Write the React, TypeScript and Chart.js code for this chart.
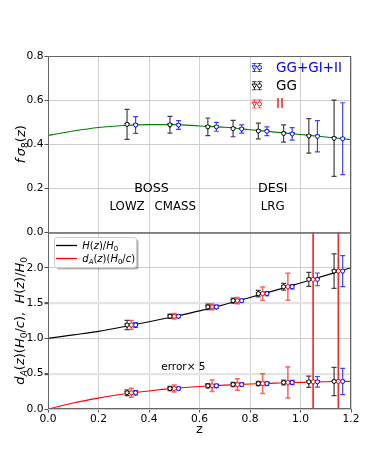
import React, { useEffect, useRef } from "react";
import { Chart, registerables } from "chart.js";
Chart.register(...registerables);

const FAM = '"DejaVu Sans", "Liberation Sans", sans-serif';

// ---- data ----
const zBins = [0.33, 0.5, 0.65, 0.75, 0.85, 0.95, 1.05, 1.15];

const fs8GG = [0.490, 0.488, 0.479, 0.471, 0.460, 0.449, 0.438, 0.427];
const fs8GGErr = [0.068, 0.038, 0.040, 0.037, 0.036, 0.039, 0.078, 0.173];
const fs8All = [0.487, 0.487, 0.479, 0.469, 0.459, 0.447, 0.436, 0.425];
const fs8AllErr = [0.038, 0.020, 0.020, 0.019, 0.020, 0.028, 0.071, 0.163];

const hzVals = [1.19, 1.314, 1.446, 1.535, 1.634, 1.732, 1.836, 1.953];
const hzErrGG = [0.065, 0.03, 0.04, 0.035, 0.045, 0.047, 0.1, 0.245];
const hzErrII = [0.065, 0.04, 0.04, 0.045, 0.094, 0.19, 5, 5];
const hzErrAll = [0.035, 0.02, 0.025, 0.02, 0.03, 0.03, 0.09, 0.22];

const daVals = [0.23, 0.29, 0.329, 0.347, 0.36, 0.376, 0.385, 0.39];
const daErrGG = [0.04, 0.03, 0.03, 0.03, 0.03, 0.035, 0.08, 0.2];
const daErrII = [0.065, 0.05, 0.08, 0.08, 0.14, 0.22, 5, 5];
const daErrAll = [0.03, 0.02, 0.025, 0.025, 0.025, 0.03, 0.075, 0.185];

const curveZ = [0, 0.1, 0.2, 0.3, 0.4, 0.5, 0.6, 0.7, 0.8, 0.9, 1.0, 1.1, 1.2];
const fs8Curve = [0.44, 0.46, 0.476, 0.485, 0.489, 0.489, 0.483, 0.477, 0.466, 0.455, 0.444, 0.433, 0.421];
const hzCurve = [1.0, 1.05, 1.10, 1.165, 1.235, 1.31, 1.39, 1.48, 1.58, 1.68, 1.785, 1.893, 2.0];
const daCurve = [0, 0.086, 0.154, 0.212, 0.256, 0.292, 0.318, 0.338, 0.354, 0.366, 0.377, 0.385, 0.391];

const xTicks = [0, 0.2, 0.4, 0.6, 0.8, 1.0, 1.2];
const topTicks = [0, 0.2, 0.4, 0.6, 0.8];
const botTicks = [0, 0.5, 1.0, 1.5, 2.0];

const OFF = 0.017;
const BLACK = "#000000";
const BLUE = "#0000ff";
const RED = "#ff0000";
const BAR_BLACK = "rgba(0,0,0,0.75)";
const BAR_BLUE = "rgba(0,0,255,0.75)";
const BAR_RED = "rgba(255,0,0,0.62)";

type Series = { axis: string; dz: number; vals: number[]; errs: number[]; edge: string; bar: string };
const series: Series[] = [
  { axis: "yT", dz: -OFF, vals: fs8GG, errs: fs8GGErr, edge: BLACK, bar: BAR_BLACK },
  { axis: "yT", dz: OFF, vals: fs8All, errs: fs8AllErr, edge: BLUE, bar: BAR_BLUE },
  { axis: "yB", dz: -OFF, vals: hzVals, errs: hzErrGG, edge: BLACK, bar: BAR_BLACK },
  { axis: "yB", dz: 0, vals: hzVals, errs: hzErrII, edge: RED, bar: BAR_RED },
  { axis: "yB", dz: OFF, vals: hzVals, errs: hzErrAll, edge: BLUE, bar: BAR_BLUE },
  { axis: "yB", dz: -OFF, vals: daVals, errs: daErrGG, edge: BLACK, bar: BAR_BLACK },
  { axis: "yB", dz: 0, vals: daVals, errs: daErrII, edge: RED, bar: BAR_RED },
  { axis: "yB", dz: OFF, vals: daVals, errs: daErrAll, edge: BLUE, bar: BAR_BLUE },
];

const notes = [
  { text: "BOSS", z: 0.41, v: 0.2, size: 12.7, axis: "yT" },
  { text: "LOWZ", z: 0.313, v: 0.118, size: 11.8, axis: "yT" },
  { text: "CMASS", z: 0.504, v: 0.118, size: 11.8, axis: "yT" },
  { text: "DESI", z: 0.89, v: 0.2, size: 12.7, axis: "yT" },
  { text: "LRG", z: 0.89, v: 0.118, size: 11.8, axis: "yT" },
  { text: "error\u00d7 5", z: 0.536, v: 0.587, size: 10.5, axis: "yB" },
];

const topLegend = [
  { label: "GG+GI+II", color: BLUE, bar: BAR_BLUE },
  { label: "GG", color: BLACK, bar: BAR_BLACK },
  { label: "II", color: RED, bar: BAR_RED },
];

type Part = { t: string; it?: boolean; sub?: boolean };
const titleTop: Part[] = [
  { t: "f", it: true }, { t: "\u2009" }, { t: "\u03c3", it: true }, { t: "8", sub: true },
  { t: "(" }, { t: "z", it: true }, { t: ")" },
];
const titleBot: Part[] = [
  { t: "d", it: true }, { t: "A", it: true, sub: true }, { t: "(" }, { t: "z", it: true }, { t: ")" },
  { t: "(" }, { t: "H", it: true }, { t: "0", sub: true }, { t: "/" }, { t: "c", it: true }, { t: ")" },
  { t: ",  " }, { t: "H", it: true }, { t: "(" }, { t: "z", it: true }, { t: ")" }, { t: "/" },
  { t: "H", it: true }, { t: "0", sub: true },
];
const legH: Part[] = [
  { t: "H", it: true }, { t: "(" }, { t: "z", it: true }, { t: ")" }, { t: "/" }, { t: "H", it: true }, { t: "0", sub: true },
];
const legDA: Part[] = [
  { t: "d", it: true }, { t: "A", it: true, sub: true }, { t: "(" }, { t: "z", it: true }, { t: ")" },
  { t: "(" }, { t: "H", it: true }, { t: "0", sub: true }, { t: "/" }, { t: "c", it: true }, { t: ")" },
];

function partFont(p: Part, size: number) {
  const s = p.sub ? size * 0.7 : size;
  return `${p.it ? "italic " : ""}${s}px ${FAM}`;
}
function mathWidth(ctx: CanvasRenderingContext2D, parts: Part[], size: number) {
  let w = 0;
  for (const p of parts) {
    ctx.font = partFont(p, size);
    w += ctx.measureText(p.t).width;
  }
  return w;
}
function drawMath(ctx: CanvasRenderingContext2D, parts: Part[], x: number, y: number, size: number, color: string) {
  ctx.fillStyle = color;
  ctx.textBaseline = "alphabetic";
  ctx.textAlign = "left";
  let cx = x;
  for (const p of parts) {
    ctx.font = partFont(p, size);
    ctx.fillText(p.t, cx, y + (p.sub ? size * 0.22 : 0));
    cx += ctx.measureText(p.t).width;
  }
}
function drawIcon(ctx: CanvasRenderingContext2D, cx: number, cy: number, edge: string, bar: string) {
  ctx.save();
  ctx.strokeStyle = bar;
  ctx.lineWidth = 1;
  for (const dx of [-2.6, 2.6]) {
    const x = cx + dx;
    ctx.beginPath();
    ctx.moveTo(x, cy - 4); ctx.lineTo(x, cy + 4);
    ctx.moveTo(x - 2.2, cy - 4); ctx.lineTo(x + 2.2, cy - 4);
    ctx.moveTo(x - 2.2, cy + 4); ctx.lineTo(x + 2.2, cy + 4);
    ctx.stroke();
  }
  ctx.strokeStyle = edge;
  ctx.fillStyle = "#fff";
  ctx.lineWidth = 0.9;
  const tx = cx - 2.6;
  ctx.beginPath();
  ctx.moveTo(tx - 2.4, cy - 1.6); ctx.lineTo(tx + 2.4, cy - 1.6); ctx.lineTo(tx, cy + 2.4); ctx.closePath();
  ctx.fill(); ctx.stroke();
  ctx.beginPath();
  ctx.arc(cx + 2.6, cy, 2, 0, Math.PI * 2);
  ctx.fill(); ctx.stroke();
  ctx.restore();
}

const errPlugin = {
  id: "errbars",
  beforeDatasetsDraw(chart: any) {
    const ctx = chart.ctx as CanvasRenderingContext2D;
    const xs = chart.scales.x;
    const ca = chart.chartArea;
    for (const s of series) {
      const ys = chart.scales[s.axis];
      ctx.save();
      ctx.beginPath();
      ctx.rect(ca.left, ys.top, ca.right - ca.left, ys.bottom - ys.top);
      ctx.clip();
      ctx.strokeStyle = s.bar;
      ctx.lineWidth = s.edge === RED ? 1.5 : 1.2;
      zBins.forEach((z, i) => {
        const px = xs.getPixelForValue(z + s.dz);
        const y1 = ys.getPixelForValue(s.vals[i] + s.errs[i]);
        const y2 = ys.getPixelForValue(s.vals[i] - s.errs[i]);
        ctx.beginPath();
        ctx.moveTo(px, y1); ctx.lineTo(px, y2);
        ctx.moveTo(px - 2.5, y1); ctx.lineTo(px + 2.5, y1);
        ctx.moveTo(px - 2.5, y2); ctx.lineTo(px + 2.5, y2);
        ctx.stroke();
      });
      ctx.restore();
    }
  },
};

const decoPlugin = {
  id: "deco",
  afterDraw(chart: any) {
    const ctx = chart.ctx as CanvasRenderingContext2D;
    const ca = chart.chartArea;
    const xs = chart.scales.x;
    const yT = chart.scales.yT;
    const yB = chart.scales.yB;
    ctx.save();
    ctx.strokeStyle = "#666";
    ctx.lineWidth = 1;
    ctx.strokeRect(ca.left + 0.5, yT.top + 0.5, ca.right - ca.left - 1, yT.bottom - yT.top);
    ctx.strokeRect(ca.left + 0.5, yB.top + 0.5, ca.right - ca.left - 1, yB.bottom - yB.top - 1);

    ctx.fillStyle = "#000";
    ctx.textAlign = "center";
    ctx.textBaseline = "middle";
    for (const n of notes) {
      const ys = chart.scales[n.axis];
      ctx.font = `${n.size}px ${FAM}`;
      ctx.fillText(n.text, xs.getPixelForValue(n.z), ys.getPixelForValue(n.v));
    }

    ctx.font = `13px ${FAM}`;
    ctx.fillText("z", (ca.left + ca.right) / 2, 430);

    const drawRot = (parts: Part[], xc: number, yc: number, size: number) => {
      ctx.save();
      ctx.translate(xc, yc);
      ctx.rotate(-Math.PI / 2);
      const w = mathWidth(ctx, parts, size);
      drawMath(ctx, parts, -w / 2, size * 0.36, size, "#000");
      ctx.restore();
    };
    drawRot(titleTop, 20, (yT.top + yT.bottom) / 2, 13);
    drawRot(titleBot, 19, (yB.top + yB.bottom) / 2, 13);

    topLegend.forEach((e, i) => {
      const cy = 67.5 + i * 18.2;
      drawIcon(ctx, 257, cy, e.color, e.bar);
      ctx.font = `13.5px ${FAM}`;
      ctx.fillStyle = e.color;
      ctx.textAlign = "left";
      ctx.textBaseline = "middle";
      ctx.fillText(e.label, 276, cy + 0.5);
    });

    const bx = 54.5, by = 237.5, bw = 82, bh = 30;
    ctx.fillStyle = "rgba(0,0,0,0.3)";
    ctx.beginPath();
    ctx.roundRect(bx + 2, by + 2, bw, bh, 2.5);
    ctx.fill();
    ctx.fillStyle = "#fff";
    ctx.strokeStyle = "#cccccc";
    ctx.lineWidth = 1;
    ctx.beginPath();
    ctx.roundRect(bx, by, bw, bh, 2.5);
    ctx.fill();
    ctx.stroke();
    ctx.lineWidth = 1.3;
    ctx.strokeStyle = BLACK;
    ctx.beginPath(); ctx.moveTo(56, 245.5); ctx.lineTo(77, 245.5); ctx.stroke();
    ctx.strokeStyle = RED;
    ctx.beginPath(); ctx.moveTo(56, 258.5); ctx.lineTo(77, 258.5); ctx.stroke();
    drawMath(ctx, legH, 82.3, 249, 10, "#000");
    drawMath(ctx, legDA, 82.3, 262, 10, "#000");
    ctx.restore();
  },
};

export default function App() {
  const ref = useRef<HTMLCanvasElement | null>(null);
  useEffect(() => {
    if (!ref.current) return;
    const circles = series.map((s) => ({
      yAxisID: s.axis,
      data: zBins.map((z, i) => ({ x: z + s.dz, y: s.vals[i] })),
      pointStyle: "circle",
      pointRadius: 2,
      borderColor: s.edge,
      backgroundColor: "#ffffff",
      borderWidth: 0.9,
      showLine: false,
    }));
    const tris = series.map((s) => ({
      yAxisID: s.axis,
      data: zBins.map((z, i) => ({ x: z + s.dz, y: s.vals[i] })),
      pointStyle: "triangle",
      rotation: 180,
      pointRadius: 2.6,
      borderColor: s.edge,
      backgroundColor: "#ffffff",
      borderWidth: 0.9,
      showLine: false,
    }));
    const curve = (vals: number[], axis: string, color: string) => ({
      yAxisID: axis,
      data: curveZ.map((z, i) => ({ x: z, y: vals[i] })),
      showLine: true,
      pointRadius: 0,
      borderColor: color,
      borderWidth: 1.1,
      cubicInterpolationMode: "monotone",
      fill: false,
    });
    const tickFont = { family: FAM, size: 10.7 };
    const chart = new Chart(ref.current, {
      type: "scatter",
      data: {
        datasets: [
          ...circles,
          ...tris,
          curve(fs8Curve, "yT", "#008000"),
          curve(hzCurve, "yB", "#000000"),
          curve(daCurve, "yB", "#ff0000"),
        ] as any,
      },
      options: {
        animation: false,
        responsive: false,
        events: [],
        layout: { padding: { top: 56, right: 39, bottom: 0, left: 0 } },
        plugins: { legend: { display: false }, tooltip: { enabled: false } },
        scales: {
          x: {
            type: "linear",
            min: 0,
            max: 1.2,
            afterBuildTicks: (s: any) => { s.ticks = xTicks.map((v) => ({ value: v })); },
            afterFit: (s: any) => { s.height = 59; },
            ticks: { callback: (v: any) => Number(v).toFixed(1), font: tickFont, color: "#000", padding: 0, maxRotation: 0, autoSkip: false },
            grid: { color: "#d0d0d0", lineWidth: 1, tickLength: 3.5, tickColor: "#555" },
            border: { display: false },
          },
          yB: {
            type: "linear",
            position: "left",
            stack: "v",
            stackWeight: 1,
            weight: 1,
            min: 0,
            max: 2.5,
            afterBuildTicks: (s: any) => { s.ticks = botTicks.map((v) => ({ value: v })); },
            afterFit: (s: any) => { s.width = 48; },
            ticks: { callback: (v: any) => Number(v).toFixed(1), font: tickFont, color: "#000", padding: 1 },
            grid: {
              color: (c: any) => (c.tick && (c.tick.value === 0.5 || c.tick.value === 1.5) ? "#e4e4e4" : "#cccccc"),
              lineWidth: (c: any) => (c.tick && (c.tick.value === 0.5 || c.tick.value === 1.5) ? 2.2 : 1),
              tickLength: 3.5,
              tickColor: "#555",
            },
            border: { display: false },
          },
          yT: {
            type: "linear",
            position: "left",
            stack: "v",
            stackWeight: 1,
            weight: 2,
            min: 0,
            max: 0.8,
            afterBuildTicks: (s: any) => { s.ticks = topTicks.map((v) => ({ value: v })); },
            afterFit: (s: any) => { s.width = 48; },
            ticks: { callback: (v: any) => Number(v).toFixed(1), font: tickFont, color: "#000", padding: 1 },
            grid: { color: "#cccccc", lineWidth: 1, tickLength: 3.5, tickColor: "#555" },
            border: { display: false },
          },
        },
      } as any,
      plugins: [errPlugin, decoPlugin],
    });
    return () => chart.destroy();
  }, []);
  return (
    <div style={{ position: "fixed", left: 0, top: 0, width: 390, height: 468, background: "#fff" }}>
      <canvas ref={ref} width={390} height={468} style={{ width: 390, height: 468, display: "block" }} />
    </div>
  );
}
